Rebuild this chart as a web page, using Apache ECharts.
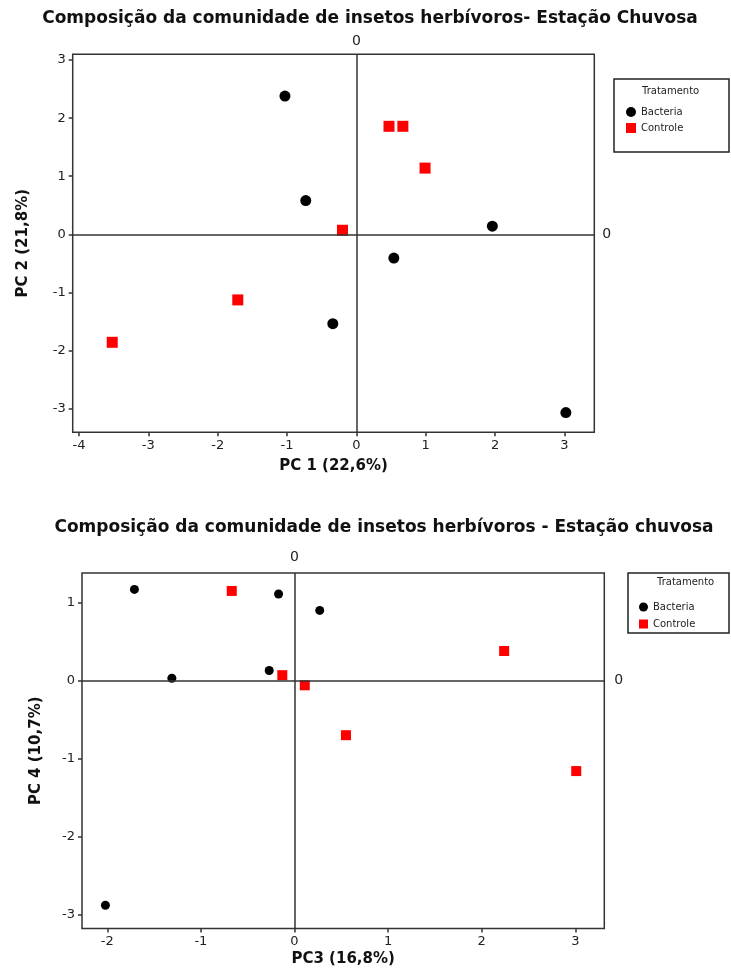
<!DOCTYPE html>
<html>
<head>
<meta charset="utf-8">
<script src="https://cdn.jsdelivr.net/npm/echarts@6/dist/echarts.min.js"></script>
<style>
html,body{margin:0;padding:0;background:#fff;}
#c{width:731px;height:974px;}
</style>
</head>
<body>
<div id="c"></div>
<script>
// ---- Data ----
const seriesNames = ['Bacteria', 'Controle'];
const legendTitle = 'Tratamento';

const title1 = 'Composição da comunidade de insetos herbívoros- Estação Chuvosa';
const title2 = 'Composição da comunidade de insetos herbívoros - Estação chuvosa';
const xName1 = 'PC 1 (22,6%)';
const yName1 = 'PC 2 (21,8%)';
const xName2 = 'PC3 (16,8%)';
const yName2 = 'PC 4 (10,7%)';

// chart 1: PC1 x PC2
const pc1Bacteria = [-1.03, -0.73, 1.96, 0.54, -0.34, 3.02];
const pc2Bacteria = [2.38, 0.58, 0.14, -0.41, -1.54, -3.07];
const pc1Controle = [0.47, 0.67, 0.99, -0.20, -1.71, -3.52];
const pc2Controle = [1.86, 1.86, 1.14, 0.07, -1.13, -1.86];

// chart 2: PC3 x PC4
const pc3Bacteria = [-1.71, -1.31, -0.17, 0.27, -0.27, -2.02];
const pc4Bacteria = [1.17, 0.03, 1.11, 0.90, 0.13, -2.88];
const pc3Controle = [-0.67, -0.13, 0.11, 0.55, 2.24, 3.01];
const pc4Controle = [1.15, 0.07, -0.06, -0.70, 0.38, -1.16];

// tick labels
const xTicks1 = [-4, -3, -2, -1, 0, 1, 2, 3];
const yTicks1 = [-3, -2, -1, 0, 1, 2, 3];
const xTicks2 = [-2, -1, 0, 1, 2, 3];
const yTicks2 = [-3, -2, -1, 0, 1];
// axis extents
const xRange1 = [-4.09, 3.43];
const yRange1 = [-3.41, 3.1];
const xRange2 = [-2.27, 3.31];
const yRange2 = [-3.18, 1.38];

const zip = (a, b) => a.map((v, i) => [v, b[i]]);

// ---- Styles ----
const FONT = 'DejaVu Sans';
const axisColor = '#333';
const labelColor = '#222';

function makeAxis(idx, range, ticks, name, gap) {
  return {
    gridIndex: idx, type: 'value', min: range[0], max: range[1],
    name: name, nameLocation: 'middle', nameGap: gap,
    nameTextStyle: {fontFamily: FONT, fontSize: 15, fontWeight: 'bold', color: '#111'},
    axisLine: {show: false, onZero: false},
    axisTick: {show: true, length: 4, lineStyle: {color: axisColor, width: 1.5}, customValues: ticks},
    axisLabel: {color: labelColor, fontFamily: FONT, fontSize: 13, margin: 7, customValues: ticks},
    splitLine: {show: false}
  };
}
function zeroLines(xr, yr, dTop, dRight) {
  return {
    silent: true, symbol: 'none', animation: false,
    lineStyle: {color: axisColor, width: 1.5, type: 'solid'},
    label: {show: true, formatter: '0', color: labelColor, fontFamily: FONT, fontSize: 14, position: 'end'},
    data: [
      [{coord: [0, yr[0]]}, {coord: [0, yr[1]], label: {distance: dTop}}],
      [{coord: [xr[0], 0]}, {coord: [xr[1], 0], label: {distance: dRight}}]
    ]
  };
}

const chart = echarts.init(document.getElementById('c'));
chart.setOption({
  animation: false,
  backgroundColor: '#fff',
  grid: [
    {left: 72.7, top: 54.3, width: 521.6, height: 378, show: true, borderColor: axisColor, borderWidth: 1.5},
    {left: 82, top: 573, width: 522.3, height: 355.6, show: true, borderColor: axisColor, borderWidth: 1.5}
  ],
  xAxis: [makeAxis(0, xRange1, xTicks1, xName1, 26), makeAxis(1, xRange2, xTicks2, xName2, 23)],
  yAxis: [makeAxis(0, yRange1, yTicks1, yName1, 42), makeAxis(1, yRange2, yTicks2, yName2, 38)],
  legend: [
    {orient: 'vertical', left: 621, top: 102, itemWidth: 10, itemHeight: 10, itemGap: 6,
     data: seriesNames, textStyle: {fontFamily: FONT, fontSize: 10, color: '#222'}},
    {orient: 'vertical', left: 634, top: 597, itemWidth: 9, itemHeight: 9, itemGap: 7,
     data: seriesNames, textStyle: {fontFamily: FONT, fontSize: 10, color: '#222'}}
  ],
  graphic: [
    {type: 'text', x: 370, y: 10, style: {text: title1, fontFamily: FONT, fontSize: 17, fontWeight: 'bold', fill: '#111', align: 'center'}},
    {type: 'text', x: 384, y: 519, style: {text: title2, fontFamily: FONT, fontSize: 17, fontWeight: 'bold', fill: '#111', align: 'center'}},
    {type: 'rect', shape: {x: 614, y: 79, width: 115, height: 73}, style: {fill: 'none', stroke: '#222', lineWidth: 1.5}},
    {type: 'text', x: 642, y: 86, style: {text: legendTitle, fontFamily: FONT, fontSize: 10, fill: '#222'}},
    {type: 'rect', shape: {x: 628, y: 573, width: 101, height: 60}, style: {fill: 'none', stroke: '#222', lineWidth: 1.5}},
    {type: 'text', x: 657, y: 577, style: {text: legendTitle, fontFamily: FONT, fontSize: 10, fill: '#222'}}
  ],
  series: [
    {name: seriesNames[0], type: 'scatter', xAxisIndex: 0, yAxisIndex: 0, symbol: 'circle', symbolSize: 11,
     itemStyle: {color: '#000', opacity: 1}, data: zip(pc1Bacteria, pc2Bacteria), markLine: zeroLines(xRange1, yRange1, 6, 8)},
    {name: seriesNames[1], type: 'scatter', xAxisIndex: 0, yAxisIndex: 0, symbol: 'rect', symbolSize: 11,
     itemStyle: {color: '#ff0000', opacity: 1}, data: zip(pc1Controle, pc2Controle)},
    {name: seriesNames[0], type: 'scatter', xAxisIndex: 1, yAxisIndex: 1, symbol: 'circle', symbolSize: 9,
     itemStyle: {color: '#000', opacity: 1}, data: zip(pc3Bacteria, pc4Bacteria), markLine: zeroLines(xRange2, yRange2, 9, 10)},
    {name: seriesNames[1], type: 'scatter', xAxisIndex: 1, yAxisIndex: 1, symbol: 'rect', symbolSize: 10,
     itemStyle: {color: '#ff0000', opacity: 1}, data: zip(pc3Controle, pc4Controle)}
  ]
});
</script>
</body>
</html>
